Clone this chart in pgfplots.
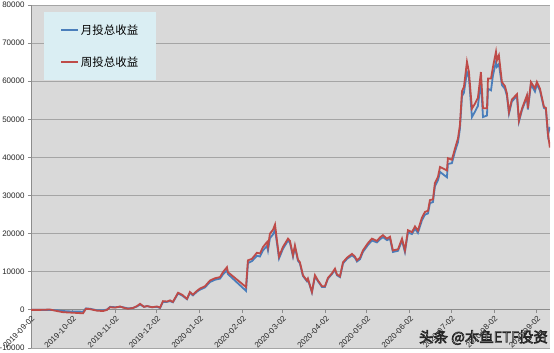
\documentclass[border=0pt]{standalone}
\usepackage{fontspec}
\setmainfont{Liberation Sans}
\newfontfamily\cjk{Noto Sans CJK SC}
\usepackage{pgfplots}
\pgfplotsset{compat=1.18}
\definecolor{bgray}{HTML}{D9D9D9}
\definecolor{ggray}{HTML}{A5A5A5}
\definecolor{agray}{HTML}{8C8C8C}
\definecolor{lblue}{HTML}{DAEEF3}
\definecolor{sblue}{HTML}{4A7EBB}
\definecolor{sred}{HTML}{BE4B48}
\begin{document}
\begin{tikzpicture}[x=1bp,y=1bp]
\useasboundingbox (0,0) rectangle (554,352);
\begin{axis}[
  at={(31bp,4bp)}, anchor=south west,
  scale only axis, width=519bp, height=343bp,
  xmin=0, xmax=375.6, ymin=-10000, ymax=80000,
  axis background/.style={fill=bgray},
  axis x line=middle, axis y line=left,
  hide obscured x ticks=false, hide obscured y ticks=false,
  axis line style={draw=agray, line width=0.8bp, -},
  every inner x axis line/.append style={-},
  every outer y axis line/.append style={-},
  ymajorgrids, grid style={draw=ggray, line width=0.9bp},
  ytick={-10000,0,10000,20000,30000,40000,50000,60000,70000,80000},
  scaled y ticks=false,
  yticklabel style={/pgf/number format/set thousands separator={}, /pgf/number format/assume math mode=true, font=\fontsize{8}{9}\selectfont, text=black!85},
  xtick={0,30,61,91,122,153,182,213,243,274,304,335,366},
  xticklabels={2019-09-02,2019-10-02,2019-11-02,2019-12-02,2020-01-02,2020-02-02,2020-03-02,2020-04-02,2020-05-02,2020-06-02,2020-07-02,2020-08-02,2020-09-02},
  xticklabel style={xshift=3bp, yshift=-4bp, rotate=45, anchor=east, font=\fontsize{8}{9}\selectfont, text=black!85, inner sep=1bp},
  tick align=outside, major tick length=3bp,
  tick style={draw=agray, line width=0.8bp},
  legend style={draw=none, fill=lblue, at={(0.025,0.98)}, anchor=north west,
    inner xsep=16bp, inner ysep=10.5bp, row sep=17bp,
    font=\cjk\fontsize{11.5}{13}\selectfont},
  legend cell align=left,
  legend image post style={line width=1.8bp},
]
\addplot[sblue, line width=1.8bp] coordinates {
(0,0)(6.5,0)(13.7,0)(18.8,-100)(23.2,-300)(28.2,-400)(33.3,-400)(37.6,-500)(39.8,400)(42.7,300)(47.8,-100)(52.1,-100)(55.0,100)(57.2,800)(60.8,700)(64.5,800)(66.6,700)(70.2,400)(73.8,500)(76.7,900)(78.9,1400)(81.8,800)(84.0,1000)(87.6,700)(91.2,800)(93.4,500)(95.5,2100)(98.4,2100)(100.6,2300)(102.7,2000)(106.4,4300)(109.3,3800)(112.9,2800)(115.0,4500)(117.2,3800)(120.1,4800)(122.3,5300)(125.9,5900)(129.5,7300)(133.1,7900)(136.8,8200)(138.9,9300)(141.8,10400)(142.5,9400)(155.6,5000)(157.0,12300)(159.9,12800)(163.5,14200)(165.7,14000)(167.9,15600)(170.8,16800)(171.5,15600)(172.9,18800)(175.1,19800)(176.6,21000)(178.0,17500)(179.5,13500)(182.3,16000)(186.0,18200)(187.4,17600)(189.6,14000)(191.0,16500)(193.2,12900)(194.6,12200)(196.8,8900)(199.7,7500)(200.4,8000)(203.3,4600)(205.5,8800)(207.7,7500)(210.6,6000)(212.7,6000)(214.9,8200)(217.8,9400)(220.0,10500)(221.4,9100)(223.6,8600)(225.8,12200)(228.7,13400)(232.3,14300)(234.4,13700)(235.9,12700)(238.1,13300)(240.2,15200)(243.8,17000)(246.7,18200)(250.4,17700)(252.5,18500)(254.7,19100)(257.6,18300)(259.8,18700)(261.9,15200)(265.6,15500)(268.5,18200)(270.6,15200)(272.8,20300)(275.7,19900)(277.9,21300)(280.0,20200)(282.9,23500)(285.1,25000)(287.3,25300)(288.7,28000)(290.9,28300)(292.3,32400)(294.5,34000)(296.0,36200)(301.0,34800)(301.7,38300)(304.6,38500)(306.8,41500)(309.0,44000)(310.4,47500)(311.9,56000)(313.3,57000)(315.5,62400)(316.9,61000)(319.1,50600)(321.3,52000)(323.4,53500)(325.6,59900)(327.1,50600)(330.0,51000)(330.7,58000)(332.9,57600)(334.3,61500)(336.5,65100)(337.2,63800)(338.6,64500)(340.8,59000)(343.0,58000)(344.4,56200)(345.9,51500)(348.0,54700)(351.7,56100)(353.1,49400)(355.3,52400)(358.9,55900)(359.6,52600)(361.8,59200)(364.7,57300)(366.1,59200)(368.3,57600)(371.2,53000)(372.6,52700)(374.1,46000)(375.5,48000)
};
\addlegendentry{月投总收益}
\addplot[sred, line width=1.8bp] coordinates {
(0,0)(6.5,0)(13.7,100)(18.8,-300)(23.2,-600)(28.2,-700)(33.3,-800)(37.6,-900)(39.8,300)(42.7,200)(47.8,-200)(52.1,-300)(55.0,0)(57.2,700)(60.8,600)(64.5,900)(66.6,600)(70.2,300)(73.8,500)(76.7,1000)(78.9,1600)(81.8,800)(84.0,1000)(87.6,700)(91.2,900)(93.4,600)(95.5,2300)(98.4,2200)(100.6,2500)(102.7,2100)(106.4,4500)(109.3,4000)(112.9,2900)(115.0,4700)(117.2,4000)(120.1,5000)(122.3,5600)(125.9,6200)(129.5,7700)(133.1,8300)(136.8,8600)(138.9,9900)(141.8,11200)(142.5,9900)(155.6,6000)(157.0,13000)(159.9,13400)(163.5,15000)(165.7,14800)(167.9,16500)(170.8,17800)(171.5,16500)(172.9,20000)(175.1,21000)(176.6,22400)(178.0,18200)(179.5,14000)(182.3,16500)(186.0,18700)(187.4,18100)(189.6,14300)(191.0,16900)(193.2,13200)(194.6,12500)(196.8,9100)(199.7,7700)(200.4,8200)(203.3,4700)(205.5,9100)(207.7,7700)(210.6,6200)(212.7,6200)(214.9,8400)(217.8,9600)(220.0,10800)(221.4,9300)(223.6,8800)(225.8,12500)(228.7,13700)(232.3,14700)(234.4,14000)(235.9,13000)(238.1,13700)(240.2,15600)(243.8,17500)(246.7,18700)(250.4,18100)(252.5,19000)(254.7,19600)(257.6,18700)(259.8,19200)(261.9,15600)(265.6,15900)(268.5,18700)(270.6,15600)(272.8,20900)(275.7,20400)(277.9,21900)(280.0,20800)(282.9,24200)(285.1,25700)(287.3,26000)(288.7,28800)(290.9,29000)(292.3,33300)(294.5,34900)(296.0,37500)(301.0,36600)(301.7,39800)(304.6,39400)(306.8,42300)(309.0,45000)(310.4,48500)(311.9,57400)(313.3,58500)(315.5,65100)(316.9,62500)(319.1,52800)(321.3,54100)(323.4,55600)(325.6,62400)(327.1,52900)(330.0,52900)(330.7,60700)(332.9,60700)(334.3,63700)(336.5,67700)(337.2,65500)(338.6,66800)(340.8,59800)(343.0,58700)(344.4,56800)(345.9,51900)(348.0,55200)(351.7,56600)(353.1,49700)(355.3,52800)(358.9,56300)(359.6,52900)(361.8,59800)(364.7,58100)(366.1,59800)(368.3,58100)(371.2,53300)(372.6,53000)(374.1,46200)(375.5,42600)
};
\addlegendentry{周投总收益}
\end{axis}
\node[anchor=south east, inner sep=0pt, text=white, font=\cjk\fontsize{14.5}{16}\selectfont] at (548,7) {\special{pdf:literal direct 2 Tr 0.7 w 0.15 G}头条 @木鱼ETF投资\special{pdf:literal direct 0 Tr}};
\end{tikzpicture}
\end{document}
